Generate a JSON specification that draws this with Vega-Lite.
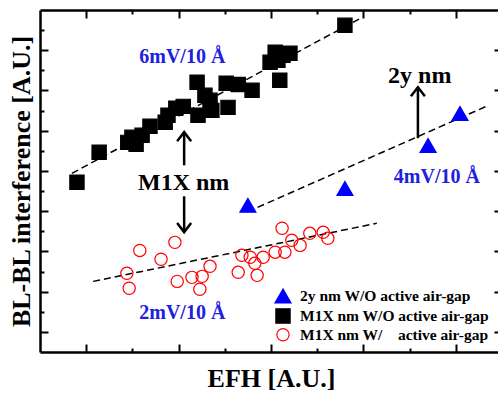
{
  "$schema": "https://vega.github.io/schema/vega-lite/v6.json",
  "width": 462,
  "height": 342,
  "autosize": "none",
  "padding": {"left": 40, "top": 10, "right": 0, "bottom": 45},
  "background": "white",
  "config": {
    "view": {"stroke": null},
    "font": "Liberation Serif",
    "axis": {
      "labels": false,
      "grid": false,
      "domainColor": "black",
      "domainWidth": 2.5,
      "tickColor": "black",
      "tickWidth": 2,
      "tickSize": {"condition": {"test": "datum.value % 2 === 1", "value": -8}, "value": -4},
      "titleFont": "Liberation Serif",
      "titleFontWeight": "bold",
      "titleFontSize": 26,
      "titleColor": "black"
    }
  },
  "datasets": {
    "points": [
      {"efh": 4.50, "bl": 7.29, "series": "2y nm W/O active air-gap"},
      {"efh": 6.60, "bl": 8.13, "series": "2y nm W/O active air-gap"},
      {"efh": 8.40, "bl": 10.27, "series": "2y nm W/O active air-gap"},
      {"efh": 9.09, "bl": 11.86, "series": "2y nm W/O active air-gap"},
      {"efh": 0.80, "bl": 8.44, "series": "M1X nm W/O active air-gap"},
      {"efh": 1.28, "bl": 9.93, "series": "M1X nm W/O active air-gap"},
      {"efh": 1.90, "bl": 10.42, "series": "M1X nm W/O active air-gap"},
      {"efh": 1.99, "bl": 10.67, "series": "M1X nm W/O active air-gap"},
      {"efh": 2.08, "bl": 10.32, "series": "M1X nm W/O active air-gap"},
      {"efh": 2.21, "bl": 10.77, "series": "M1X nm W/O active air-gap"},
      {"efh": 2.38, "bl": 11.22, "series": "M1X nm W/O active air-gap"},
      {"efh": 2.71, "bl": 11.42, "series": "M1X nm W/O active air-gap"},
      {"efh": 2.77, "bl": 11.77, "series": "M1X nm W/O active air-gap"},
      {"efh": 2.94, "bl": 12.12, "series": "M1X nm W/O active air-gap"},
      {"efh": 3.10, "bl": 12.21, "series": "M1X nm W/O active air-gap"},
      {"efh": 3.40, "bl": 13.41, "series": "M1X nm W/O active air-gap"},
      {"efh": 3.42, "bl": 11.77, "series": "M1X nm W/O active air-gap"},
      {"efh": 3.57, "bl": 12.76, "series": "M1X nm W/O active air-gap"},
      {"efh": 3.68, "bl": 12.51, "series": "M1X nm W/O active air-gap"},
      {"efh": 3.72, "bl": 12.01, "series": "M1X nm W/O active air-gap"},
      {"efh": 4.03, "bl": 13.36, "series": "M1X nm W/O active air-gap"},
      {"efh": 4.07, "bl": 12.16, "series": "M1X nm W/O active air-gap"},
      {"efh": 4.29, "bl": 13.30, "series": "M1X nm W/O active air-gap"},
      {"efh": 4.59, "bl": 13.01, "series": "M1X nm W/O active air-gap"},
      {"efh": 4.98, "bl": 14.40, "series": "M1X nm W/O active air-gap"},
      {"efh": 5.09, "bl": 14.90, "series": "M1X nm W/O active air-gap"},
      {"efh": 5.19, "bl": 13.51, "series": "M1X nm W/O active air-gap"},
      {"efh": 5.26, "bl": 14.75, "series": "M1X nm W/O active air-gap"},
      {"efh": 5.41, "bl": 14.85, "series": "M1X nm W/O active air-gap"},
      {"efh": 5.15, "bl": 14.50, "series": "M1X nm W/O active air-gap"},
      {"efh": 6.60, "bl": 16.24, "series": "M1X nm W/O active air-gap"},
      {"efh": 1.88, "bl": 3.91, "series": "M1X nm W/\u00a0\u00a0\u00a0\u00a0active air-gap"},
      {"efh": 1.93, "bl": 3.17, "series": "M1X nm W/\u00a0\u00a0\u00a0\u00a0active air-gap"},
      {"efh": 2.16, "bl": 5.05, "series": "M1X nm W/\u00a0\u00a0\u00a0\u00a0active air-gap"},
      {"efh": 2.62, "bl": 4.61, "series": "M1X nm W/\u00a0\u00a0\u00a0\u00a0active air-gap"},
      {"efh": 2.92, "bl": 5.45, "series": "M1X nm W/\u00a0\u00a0\u00a0\u00a0active air-gap"},
      {"efh": 2.97, "bl": 3.51, "series": "M1X nm W/\u00a0\u00a0\u00a0\u00a0active air-gap"},
      {"efh": 3.29, "bl": 3.71, "series": "M1X nm W/\u00a0\u00a0\u00a0\u00a0active air-gap"},
      {"efh": 3.46, "bl": 3.12, "series": "M1X nm W/\u00a0\u00a0\u00a0\u00a0active air-gap"},
      {"efh": 3.51, "bl": 3.76, "series": "M1X nm W/\u00a0\u00a0\u00a0\u00a0active air-gap"},
      {"efh": 3.68, "bl": 4.26, "series": "M1X nm W/\u00a0\u00a0\u00a0\u00a0active air-gap"},
      {"efh": 4.29, "bl": 3.96, "series": "M1X nm W/\u00a0\u00a0\u00a0\u00a0active air-gap"},
      {"efh": 4.37, "bl": 4.81, "series": "M1X nm W/\u00a0\u00a0\u00a0\u00a0active air-gap"},
      {"efh": 4.55, "bl": 4.71, "series": "M1X nm W/\u00a0\u00a0\u00a0\u00a0active air-gap"},
      {"efh": 4.70, "bl": 3.81, "series": "M1X nm W/\u00a0\u00a0\u00a0\u00a0active air-gap"},
      {"efh": 4.65, "bl": 4.41, "series": "M1X nm W/\u00a0\u00a0\u00a0\u00a0active air-gap"},
      {"efh": 4.83, "bl": 4.71, "series": "M1X nm W/\u00a0\u00a0\u00a0\u00a0active air-gap"},
      {"efh": 5.09, "bl": 4.96, "series": "M1X nm W/\u00a0\u00a0\u00a0\u00a0active air-gap"},
      {"efh": 5.24, "bl": 6.15, "series": "M1X nm W/\u00a0\u00a0\u00a0\u00a0active air-gap"},
      {"efh": 5.30, "bl": 4.96, "series": "M1X nm W/\u00a0\u00a0\u00a0\u00a0active air-gap"},
      {"efh": 5.45, "bl": 5.55, "series": "M1X nm W/\u00a0\u00a0\u00a0\u00a0active air-gap"},
      {"efh": 5.63, "bl": 5.30, "series": "M1X nm W/\u00a0\u00a0\u00a0\u00a0active air-gap"},
      {"efh": 5.84, "bl": 5.90, "series": "M1X nm W/\u00a0\u00a0\u00a0\u00a0active air-gap"},
      {"efh": 6.13, "bl": 5.95, "series": "M1X nm W/\u00a0\u00a0\u00a0\u00a0active air-gap"},
      {"efh": 6.23, "bl": 5.65, "series": "M1X nm W/\u00a0\u00a0\u00a0\u00a0active air-gap"}
    ],
    "fits": [
      {"fit": "M1X W/O", "efh": 0.69, "bl": 8.88},
      {"fit": "M1X W/O", "efh": 6.98, "bl": 16.64},
      {"fit": "2y W/O", "efh": 4.71, "bl": 7.19},
      {"fit": "2y W/O", "efh": 9.66, "bl": 12.21},
      {"fit": "M1X W/", "efh": 1.15, "bl": 3.51},
      {"fit": "M1X W/", "efh": 7.29, "bl": 6.40}
    ],
    "slopes": [
      {"efh": 3.08, "bl": 14.35, "label": "6mV/10 Å"},
      {"efh": 8.59, "bl": 8.38, "label": "4mV/10 Å"},
      {"efh": 3.08, "bl": 1.63, "label": "2mV/10 Å"}
    ],
    "nodes": [
      {"efh": 3.11, "bl": 8.03, "label": "M1X nm"},
      {"efh": 8.22, "bl": 13.35, "label": "2y nm"}
    ],
    "arrows": [
      {"efh": 3.12, "tail": 9.28, "tip": 10.93, "dir": "up"},
      {"efh": 3.12, "tail": 7.74, "tip": 5.96, "dir": "down"},
      {"efh": 8.18, "tail": 10.63, "tip": 13.16, "dir": "up"}
    ]
  },
  "resolve": {"axis": {"x": "independent", "y": "independent"}},
  "layer": [
    {
      "data": {"name": "fits"},
      "mark": {"type": "line", "color": "black", "strokeWidth": 1.5, "strokeDash": [7, 4]},
      "encoding": {
        "x": {"field": "efh", "type": "quantitative", "scale": {"domain": [0, 10], "nice": false, "zero": false},
              "axis": {"orient": "bottom", "values": [1, 2, 3, 4, 5, 6, 7, 8, 9], "title": "EFH [A.U.]", "titlePadding": 12}},
        "y": {"field": "bl", "type": "quantitative", "scale": {"domain": [0, 17], "nice": false, "zero": false},
              "axis": {"orient": "left", "values": [1, 2, 3, 4, 5, 6, 7, 8, 9, 10, 11, 12, 13, 14, 15, 16], "title": "BL-BL interference [A.U.]", "titlePadding": 5}},
        "detail": {"field": "fit"}
      }
    },
    {
      "data": {"name": "points"},
      "mark": {"type": "point", "opacity": 1, "strokeWidth": 1.2},
      "encoding": {
        "x": {"field": "efh", "type": "quantitative", "scale": {"domain": [0, 10], "nice": false, "zero": false},
              "axis": {"orient": "top", "values": [1, 2, 3, 4, 5, 6, 7, 8, 9], "title": null}},
        "y": {"field": "bl", "type": "quantitative", "scale": {"domain": [0, 17], "nice": false, "zero": false},
              "axis": {"orient": "right", "values": [1, 2, 3, 4, 5, 6, 7, 8, 9, 10, 11, 12, 13, 14, 15, 16], "title": null}},
        "shape": {"field": "series", "type": "nominal",
                  "scale": {"domain": ["2y nm W/O active air-gap", "M1X nm W/O active air-gap", "M1X nm W/\u00a0\u00a0\u00a0\u00a0active air-gap"],
                            "range": ["triangle-up", "square", "circle"]},
                  "legend": {"orient": "none", "legendX": 234, "legendY": 277, "title": null, "padding": 0,
                             "labelFont": "Liberation Serif", "labelFontSize": 15.5, "labelFontWeight": "bold", "labelColor": "black",
                             "labelOffset": 8, "labelLimit": 0, "rowPadding": 0, "symbolStrokeWidth": 1.2}},
        "fill": {"field": "series", "type": "nominal",
                 "scale": {"domain": ["2y nm W/O active air-gap", "M1X nm W/O active air-gap", "M1X nm W/\u00a0\u00a0\u00a0\u00a0active air-gap"],
                           "range": ["#0000ff", "#000000", "transparent"]}},
        "stroke": {"field": "series", "type": "nominal",
                   "scale": {"domain": ["2y nm W/O active air-gap", "M1X nm W/O active air-gap", "M1X nm W/\u00a0\u00a0\u00a0\u00a0active air-gap"],
                             "range": ["#0000ff", "#000000", "#ff0000"]}},
        "size": {"field": "series", "type": "nominal",
                 "scale": {"domain": ["2y nm W/O active air-gap", "M1X nm W/O active air-gap", "M1X nm W/\u00a0\u00a0\u00a0\u00a0active air-gap"],
                           "range": [256, 150, 196]}}
      }
    },
    {
      "data": {"name": "arrows"},
      "mark": {"type": "rule", "color": "black", "strokeWidth": 2.5},
      "encoding": {
        "x": {"field": "efh", "type": "quantitative", "axis": null},
        "y": {"field": "tail", "type": "quantitative", "axis": null},
        "y2": {"field": "tip"}
      }
    },
    {
      "data": {"name": "arrows"},
      "transform": [{"filter": "datum.dir === 'up'"}],
      "mark": {"type": "point", "shape": "M-1,1.3L0,0L1,1.3", "size": 196, "filled": false, "opacity": 1, "color": "black", "strokeWidth": 2.5},
      "encoding": {
        "x": {"field": "efh", "type": "quantitative", "axis": null},
        "y": {"field": "tip", "type": "quantitative", "axis": null}
      }
    },
    {
      "data": {"name": "arrows"},
      "transform": [{"filter": "datum.dir === 'down'"}],
      "mark": {"type": "point", "shape": "M-1,-1.3L0,0L1,-1.3", "size": 196, "filled": false, "opacity": 1, "color": "black", "strokeWidth": 2.5},
      "encoding": {
        "x": {"field": "efh", "type": "quantitative", "axis": null},
        "y": {"field": "tip", "type": "quantitative", "axis": null}
      }
    },
    {
      "data": {"name": "slopes"},
      "mark": {"type": "text", "font": "Liberation Serif", "fontWeight": "bold", "fontSize": 20, "color": "#2020e0", "align": "center", "baseline": "alphabetic"},
      "encoding": {
        "x": {"field": "efh", "type": "quantitative", "axis": null},
        "y": {"field": "bl", "type": "quantitative", "axis": null},
        "text": {"field": "label"}
      }
    },
    {
      "data": {"name": "nodes"},
      "mark": {"type": "text", "font": "Liberation Serif", "fontWeight": "bold", "fontSize": 24, "color": "black", "align": "center", "baseline": "alphabetic"},
      "encoding": {
        "x": {"field": "efh", "type": "quantitative", "axis": null},
        "y": {"field": "bl", "type": "quantitative", "axis": null},
        "text": {"field": "label"}
      }
    }
  ]
}
